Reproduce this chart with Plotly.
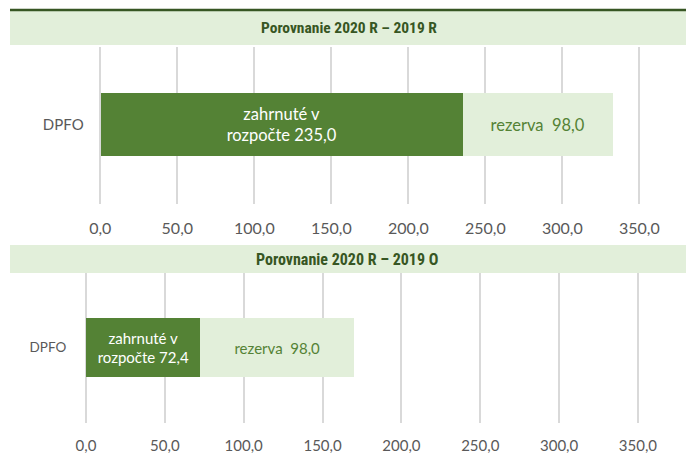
import plotly.graph_objects as go

# ---- data ----
category = ["DPFO"]
panel_titles = ["Porovnanie 2020 R – 2019 R", "Porovnanie 2020 R – 2019 O"]
included_2019R = [235.0]
reserve_2019R = [98.0]
included_2019O = [72.4]
reserve_2019O = [98.0]
tick_vals = [0, 50, 100, 150, 200, 250, 300, 350]
tick_text = ["0,0", "50,0", "100,0", "150,0", "200,0", "250,0", "300,0", "350,0"]

W, H = 686, 454
DARK = "#548235"
LIGHT = "#E2EFDA"
TITLE_C = "#375623"
GRID = "#D9D9D9"
TXT = "#595959"
FONT = "Lato, Open Sans, sans-serif"
TFONT = "Liberation Sans Narrow, Roboto Condensed, Liberation Sans, Arial, sans-serif"


def fmt(v):
    return f"{v:.1f}".replace(".", ",")


def px_x(p):
    return p / W


def px_y(p):
    return 1 - p / H


fig = go.Figure()

panels = [
    dict(inc=included_2019R, res=reserve_2019R, xa="x", ya="y", width=0.401,
         fs=16.5, rfs=16.5),
    dict(inc=included_2019O, res=reserve_2019O, xa="x2", ya="y2", width=0.393,
         fs=15, rfs=15),
]

for p in panels:
    fig.add_trace(go.Bar(
        y=category, x=p["inc"], orientation="h", xaxis=p["xa"], yaxis=p["ya"],
        width=p["width"], marker=dict(color=DARK, line=dict(width=0)),
        text=[f"zahrnuté v<br>rozpočte {fmt(v)}" for v in p["inc"]],
        textposition="inside", insidetextanchor="middle", constraintext="none",
        textfont=dict(family=FONT, size=p["fs"], color="white"),
        hoverinfo="skip",
    ))
    fig.add_trace(go.Bar(
        y=category, x=p["res"], orientation="h", xaxis=p["xa"], yaxis=p["ya"],
        width=p["width"], marker=dict(color=LIGHT, line=dict(width=0)),
        text=[f"rezerva  {fmt(v)}" for v in p["res"]],
        textposition="inside", insidetextanchor="middle", constraintext="none",
        textfont=dict(family=FONT, size=p["rfs"], color=DARK),
        hoverinfo="skip",
    ))

# axis geometry (pixels)
k1, z1 = 1.54, 100.3   # top panel: px per unit, px of zero
k2, z2 = 1.577, 86.0   # bottom panel
pad = 3                # units of padding left of zero


def xaxis(k, z, fs, standoff):
    left = z - pad * k
    return dict(
        domain=[px_x(left), 1.0], range=[-pad, (W - left) / k - pad],
        tickvals=tick_vals, ticktext=tick_text,
        showgrid=True, gridcolor=GRID, gridwidth=1.5,
        zeroline=True, zerolinecolor=GRID, zerolinewidth=1.5,
        showline=False, ticks="",
        tickfont=dict(family=FONT, size=fs, color=TXT),
        ticklabelstandoff=standoff, fixedrange=True, automargin=False,
    )


def yaxis(top, bot, center, fs, standoff):
    h = bot - top
    c = (bot - center) / h
    return dict(
        domain=[px_y(bot), px_y(top)], range=[-c, 1 - c],
        showgrid=False, zeroline=False, showline=False, ticks="",
        tickfont=dict(family=FONT, size=fs, color=TXT),
        ticklabelstandoff=standoff, fixedrange=True, automargin=False,
    )


shapes = [
    # title bands
    dict(type="rect", xref="paper", yref="paper", x0=px_x(10), x1=1,
         y0=px_y(45), y1=px_y(11), fillcolor=LIGHT, line=dict(width=0), layer="below"),
    dict(type="line", xref="paper", yref="paper", x0=px_x(10), x1=1,
         y0=px_y(10), y1=px_y(10), line=dict(color=TITLE_C, width=2.5)),
    dict(type="rect", xref="paper", yref="paper", x0=px_x(10), x1=1,
         y0=px_y(273), y1=px_y(245), fillcolor=LIGHT, line=dict(width=0), layer="below"),
]

annotations = [
    dict(text=f"<b>{panel_titles[0]}</b>", xref="paper", yref="paper",
         x=px_x(349), y=px_y(28), showarrow=False, xanchor="center", yanchor="middle",
         font=dict(family=TFONT, size=15.5, color=TITLE_C)),
    dict(text=f"<b>{panel_titles[1]}</b>", xref="paper", yref="paper",
         x=px_x(347), y=px_y(259), showarrow=False, xanchor="center", yanchor="middle",
         font=dict(family=TFONT, size=16, color=TITLE_C)),
]

fig.update_layout(
    width=W, height=H, margin=dict(l=0, r=0, t=0, b=0, autoexpand=False),
    paper_bgcolor="white", plot_bgcolor="white",
    barmode="stack", bargap=0, showlegend=False,
    xaxis=dict(**xaxis(k1, z1, 16, 13), anchor="y"),
    yaxis=dict(**yaxis(47, 204, 124.5, 15, 11), anchor="x"),
    xaxis2=dict(**xaxis(k2, z2, 15, 12), anchor="y2"),
    yaxis2=dict(**yaxis(273, 423, 347.5, 13.5, 14), anchor="x2"),
    shapes=shapes, annotations=annotations,
)

fig.write_html(
    "out.html",
    config={"displayModeBar": False},
    post_script="document.body.style.margin='0';document.body.style.overflow='hidden';",
)
